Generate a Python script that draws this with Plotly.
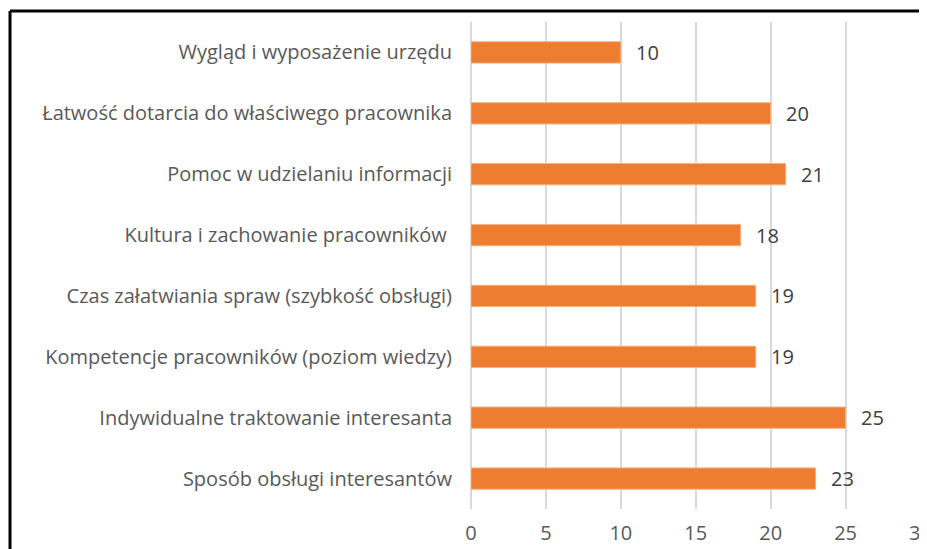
import plotly.graph_objects as go

categories = [
    "Sposób obsługi interesantów",
    "Indywidualne traktowanie interesanta",
    "Kompetencje pracowników (poziom wiedzy)",
    "Czas załatwiania spraw (szybkość obsługi)",
    "Kultura i zachowanie pracowników ",
    "Pomoc w udzielaniu informacji",
    "Łatwość dotarcia do właściwego pracownika",
    "Wygląd i wyposażenie urzędu",
]
values = [23, 25, 19, 19, 18, 21, 20, 10]
tick_vals = [0, 5, 10, 15, 20, 25, 30]

# page has an 8px body margin, so figure coords = page coords - 8
OFF = 8
W, H = 927 - OFF, 549 - OFF
XMAX = 30.3
SCALE = 15.0  # px per unit
L = 471 - OFF
R = L + XMAX * SCALE
T, B = 22 - OFF, 509 - OFF
pw, ph = R - L, B - T

fig = go.Figure()
fig.add_trace(go.Bar(
    x=values, y=categories, orientation="h",
    marker=dict(color="#ED7D31", line=dict(color="#F4B183", width=1)),
    width=0.35, hoverinfo="skip",
))
for v, c in zip(values, categories):
    fig.add_annotation(x=v, y=c, text=str(v), showarrow=False, xanchor="left",
                       xshift=13, font=dict(color="#404040", size=20, family="Open Sans"))

def px_x(p):
    return (p - OFF - L) / pw

def px_y(p):
    return (B - (p - OFF)) / ph

line = dict(color="black", width=3)
fig.add_shape(type="line", xref="paper", yref="paper",
              x0=px_x(9.5), x1=px_x(940), y0=px_y(11), y1=px_y(11), line=line)
fig.add_shape(type="line", xref="paper", yref="paper",
              x0=px_x(9.5), x1=px_x(9.5), y0=px_y(11), y1=px_y(560), line=line)

fig.update_layout(
    width=W, height=H,
    margin=dict(l=L, r=W - R, t=T, b=H - B, pad=0, autoexpand=False),
    paper_bgcolor="white", plot_bgcolor="white",
    showlegend=False,
    font=dict(family="Open Sans", color="#595959", size=20),
    xaxis=dict(range=[0, XMAX], tickvals=tick_vals, showgrid=True, gridcolor="#D9D9D9",
               gridwidth=1.5, zeroline=True, zerolinecolor="#D9D9D9", zerolinewidth=1.5,
               showline=False, ticks="", ticklabelstandoff=10, ticklabeloverflow="allow",
               automargin=False, tickfont=dict(size=20, color="#595959")),
    yaxis=dict(showgrid=False, zeroline=False, showline=False, ticks="", automargin=False,
               ticklabelstandoff=18, tickfont=dict(size=20, color="#595959")),
)
fig.write_html("out.html")
